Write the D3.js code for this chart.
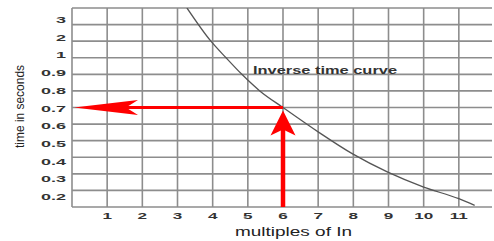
<!DOCTYPE html>
<html>
<head>
<meta charset="utf-8">
<script src="https://cdn.jsdelivr.net/npm/d3@7"></script>
<style>
  body { margin: 0; background: #fff; }
  svg { display: block; }
  text { font-family: "Liberation Sans", Arial, sans-serif; }
</style>
</head>
<body>
<svg id="chart"></svg>
<script>
// curve
var multiples = [3.27, 3.95, 4.38, 4.83, 5.34, 6, 7.02, 7.98, 8.98, 10, 11, 11.45];
var times = [4, 2, 1, 0.9, 0.8, 0.7, 0.55, 0.42, 0.31, 0.22, 0.15, 0.11];

// axis ticks
var xTicks = [1, 2, 3, 4, 5, 6, 7, 8, 9, 10, 11];
var yTicks = ["3", "2", "1", "0.9", "0.8", "0.7", "0.6", "0.5", "0.4", "0.3", "0.2"];
var yLevels = [0.1, 0.2, 0.3, 0.4, 0.5, 0.6, 0.7, 0.8, 0.9, 1, 2, 3, 4];

// operating point marked by the red arrows
var setting = [6, 0.7];

var width = 494, height = 241;
var plotL = 72, plotR = 494, plotT = 8, plotB = 207;

var svg = d3.select('#chart')
  .attr("width", width)
  .attr("height", height);

var x = d3.scaleLinear().domain([0, 12]).range([plotL, plotR]);
// non-uniform time axis: each listed level gets an equal step
var step = (plotB - plotT) / (yLevels.length - 1);
var y = d3.scaleLinear()
  .domain(yLevels)
  .range(yLevels.map((d, i) => plotB - i * step));
var yLab = d3.scalePoint().domain(yTicks).range([20, 197]);

var grid = svg.append("g")
  .attr("stroke", "#8d8d8d")
  .attr("stroke-width", 1.6);

grid.selectAll("line.v")
  .data([0].concat(xTicks))
  .enter().append("line")
  .attr("x1", d => x(d)).attr("x2", d => x(d))
  .attr("y1", plotT).attr("y2", plotB);

grid.selectAll("line.h")
  .data(yLevels)
  .enter().append("line")
  .attr("x1", plotL).attr("x2", plotR - 2)
  .attr("y1", d => y(d)).attr("y2", d => y(d));

// tick labels (stretched wide like the source image)
svg.append("g").selectAll("text")
  .data(xTicks)
  .enter().append("text")
  .attr("transform", d => `translate(${x(d)},219) scale(1.9,1)`)
  .attr("text-anchor", "middle")
  .attr("font-size", 9)
  .attr("font-weight", "bold")
  .attr("fill", "#333")
  .text(d => d);

svg.append("g").selectAll("text")
  .data(yTicks)
  .enter().append("text")
  .attr("transform", d => `translate(66,${yLab(d) + 3}) scale(2,1)`)
  .attr("text-anchor", "end")
  .attr("font-size", 9)
  .attr("font-weight", "bold")
  .attr("fill", "#333")
  .text(d => d);

// axis titles
svg.append("text")
  .attr("x", 235).attr("y", 236)
  .attr("font-size", 12)
  .attr("fill", "#222")
  .attr("textLength", 117)
  .attr("lengthAdjust", "spacingAndGlyphs")
  .text("multiples of In");

svg.append("text")
  .attr("transform", "translate(24,148) rotate(-90)")
  .attr("font-size", 12)
  .attr("fill", "#222")
  .attr("textLength", 83)
  .attr("lengthAdjust", "spacingAndGlyphs")
  .text("time in seconds");

// the curve
svg.append("clipPath").attr("id", "plot")
  .append("rect")
  .attr("x", plotL).attr("y", plotT)
  .attr("width", plotR - plotL).attr("height", plotB - plotT);

var line = d3.line()
  .x(d => x(d[0]))
  .y(d => y(d[1]))
  .curve(d3.curveMonotoneX);

svg.append("path")
  .datum(d3.zip(multiples, times))
  .attr("clip-path", "url(#plot)")
  .attr("fill", "none")
  .attr("stroke", "#555")
  .attr("stroke-width", 1.3)
  .attr("d", line);

svg.append("text")
  .attr("x", 253).attr("y", 74)
  .attr("font-size", 10)
  .attr("font-weight", "bold")
  .attr("fill", "#333")
  .attr("textLength", 144)
  .attr("lengthAdjust", "spacingAndGlyphs")
  .text("Inverse time curve");

// red arrows
var red = "#ff0000";
var px = x(setting[0]), py = y(setting[1]);

svg.append("line")
  .attr("x1", px).attr("x2", x(0) + 30)
  .attr("y1", py).attr("y2", py)
  .attr("stroke", red).attr("stroke-width", 3);

var hx = x(0) + 2;
svg.append("path")
  .attr("fill", red)
  .attr("d", `M${hx},${py} L${hx + 64},${py - 7.5} L${hx + 52},${py} L${hx + 64},${py + 7.5} Z`);

svg.append("line")
  .attr("x1", px).attr("x2", px)
  .attr("y1", plotB).attr("y2", py + 20)
  .attr("stroke", red).attr("stroke-width", 4.5);

var vy = py + 3;
svg.append("path")
  .attr("fill", red)
  .attr("d", `M${px},${vy} L${px + 12.5},${vy + 25} L${px},${vy + 19} L${px - 12.5},${vy + 25} Z`);
</script>
</body>
</html>
